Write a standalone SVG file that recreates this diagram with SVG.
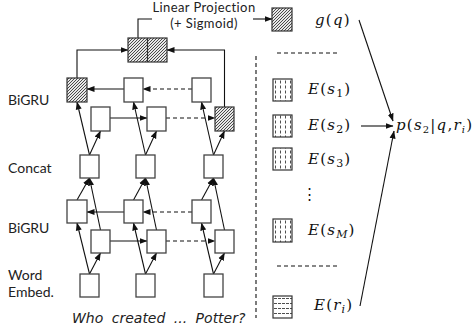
<svg xmlns="http://www.w3.org/2000/svg" width="472" height="334" viewBox="0 0 472 334">
  <defs>
    <!-- diagonal hatching for pooled / final states -->
    <pattern id="hatch" patternUnits="userSpaceOnUse" width="3" height="3">
      <rect width="3" height="3" fill="#e8e8e8"/>
      <path d="M-1,1 L1,-1 M0,3 L3,0 M2,4 L4,2" stroke="#222" stroke-width="0.8"/>
    </pattern>
    <!-- vertical dashes for sentence embeddings -->
    <pattern id="vdash" patternUnits="userSpaceOnUse" x="273" y="0" width="5" height="5">
      <rect width="5" height="5" fill="#fff"/>
      <line x1="2.5" y1="0.5" x2="2.5" y2="3.5" stroke="#222" stroke-width="0.8"/>
    </pattern>
    <!-- horizontal dashes for the relation embedding -->
    <pattern id="hdash" patternUnits="userSpaceOnUse" x="273" y="296" width="8" height="5">
      <rect width="8" height="5" fill="#fff"/>
      <line x1="1" y1="2.5" x2="4" y2="2.5" stroke="#222" stroke-width="0.8"/>
      <line x1="5" y1="2.5" x2="8" y2="2.5" stroke="#222" stroke-width="0.8"/>
    </pattern>
    <marker id="arr" markerUnits="userSpaceOnUse" markerWidth="8" markerHeight="8" viewBox="0 0 8 8" refX="7.5" refY="4" orient="auto">
      <path d="M0,1 L8,4 L0,7 Z" fill="#111"/>
    </marker>
  </defs>
  <style>
    .box { fill: #fff; stroke: #444; stroke-width: 1.3; }
    .hb { fill: url(#hatch); stroke: #333; stroke-width: 1.2; }
    .sb { fill: url(#vdash); stroke: #333; stroke-width: 1.2; }
    .rb { fill: url(#hdash); stroke: #333; stroke-width: 1.2; }
    .ln { fill: none; stroke: #111; stroke-width: 1.1; }
    .ar { fill: none; stroke: #111; stroke-width: 1.1; marker-end: url(#arr); }
    .da { stroke-dasharray: 4 3; }
    .lbl { font-family: Lato, "Liberation Sans", sans-serif; font-size: 14px; fill: #222; }
    .cap { font-size: 13px; letter-spacing: 0.4px; }
    .q { font-family: "DejaVu Sans", sans-serif; font-style: italic; font-size: 14px; fill: #222; }
    .math { font-family: "DejaVu Serif", "Liberation Serif", serif; font-size: 15px; letter-spacing: 1.2px; fill: #111; }
    .mi { font-style: italic; }
    .sub { font-size: 11px; }
  </style>

  <rect width="472" height="334" fill="#fff"/>

  <!-- row labels -->
  <g id="labels">
    <text class="lbl" x="8" y="105">BiGRU</text>
    <text class="lbl" x="8" y="173">Concat</text>
    <text class="lbl" x="8" y="233">BiGRU</text>
    <text class="lbl" x="8" y="280">Word</text>
    <text class="lbl" x="8" y="297">Embed.</text>
    <text class="q" x="72" y="323" word-spacing="4">Who created ... Potter?</text>
    <text class="lbl cap" x="204" y="12" text-anchor="middle">Linear Projection</text>
    <text class="lbl cap" x="204" y="28" text-anchor="middle">(+ Sigmoid)</text>
  </g>

  <g id="connectors">
    <!-- word embedding to lower BiGRU -->
    <line class="ar" x1="89.5" y1="274" x2="77" y2="223"/>
    <line class="ar" x1="89.5" y1="274" x2="100.5" y2="253"/>
    <line class="ar" x1="145.5" y1="274" x2="133.5" y2="223"/>
    <line class="ar" x1="145.5" y1="274" x2="156.5" y2="253"/>
    <line class="ar" x1="213.5" y1="274" x2="201.5" y2="223"/>
    <line class="ar" x1="213.5" y1="274" x2="224.5" y2="253"/>
    <!-- lower BiGRU recurrences -->
    <line class="ar" x1="124" y1="212" x2="87" y2="212"/>
    <line class="ar da" x1="192" y1="212" x2="143" y2="212"/>
    <line class="ar" x1="110" y1="241" x2="147" y2="241"/>
    <line class="ar da" x1="166" y1="241" x2="215" y2="241"/>
    <!-- lower BiGRU to concat -->
    <line class="ar" x1="77" y1="200" x2="89.5" y2="178"/>
    <line class="ar" x1="100.5" y1="230" x2="89.5" y2="178"/>
    <line class="ar" x1="133.5" y1="200" x2="145.5" y2="178"/>
    <line class="ar" x1="156.5" y1="230" x2="145.5" y2="178"/>
    <line class="ar" x1="201.5" y1="200" x2="213.5" y2="178"/>
    <line class="ar" x1="224.5" y1="230" x2="213.5" y2="178"/>
    <!-- concat to upper BiGRU -->
    <line class="ar" x1="89.5" y1="155" x2="77" y2="102"/>
    <line class="ar" x1="89.5" y1="155" x2="100.5" y2="131"/>
    <line class="ar" x1="145.5" y1="155" x2="133.5" y2="102"/>
    <line class="ar" x1="145.5" y1="155" x2="156.5" y2="131"/>
    <line class="ar" x1="213.5" y1="155" x2="201.5" y2="102"/>
    <line class="ar" x1="213.5" y1="155" x2="224.5" y2="131"/>
    <!-- upper BiGRU recurrences -->
    <line class="ar" x1="124" y1="89" x2="87" y2="89"/>
    <line class="ar da" x1="192" y1="89" x2="143" y2="89"/>
    <line class="ar" x1="110" y1="118" x2="147" y2="118"/>
    <line class="ar da" x1="166" y1="118" x2="215" y2="118"/>
    <!-- final states to the joined vector -->
    <polyline class="ar" points="77,78 77,50 128,50"/>
    <polyline class="ar" points="224.5,107 224.5,50 167,50"/>
    <polyline class="ln" points="138,38 138,19 152,19"/>
    <line class="ar" x1="253" y1="19" x2="272" y2="19"/>
    <!-- right panel separators -->
    <line class="ln da" x1="256" y1="56" x2="256" y2="318"/>
    <line class="ln da" x1="277" y1="53" x2="340" y2="53"/>
    <line class="ln da" x1="277" y1="266" x2="340" y2="266"/>
    <!-- inputs of the probability -->
    <line class="ar" x1="359" y1="20" x2="393" y2="121"/>
    <line class="ar" x1="361" y1="126" x2="393" y2="126"/>
    <line class="ar" x1="360" y1="306" x2="394" y2="131"/>
  </g>

  <!-- upper BiGRU -->
  <g id="u_t1"><rect class="hb" x="67" y="78" width="20" height="24"/></g>
  <g id="u_t2"><rect class="box" x="124" y="78" width="19" height="24"/></g>
  <g id="u_t3"><rect class="box" x="192" y="78" width="19" height="24"/></g>
  <g id="u_f1"><rect class="box" x="91" y="107" width="19" height="24"/></g>
  <g id="u_f2"><rect class="box" x="147" y="107" width="19" height="24"/></g>
  <g id="u_f3"><rect class="hb" x="215" y="107" width="19" height="24"/></g>

  <!-- concat -->
  <g id="c1"><rect class="box" x="80" y="155" width="19" height="23"/></g>
  <g id="c2"><rect class="box" x="136" y="155" width="19" height="23"/></g>
  <g id="c3"><rect class="box" x="204" y="155" width="19" height="23"/></g>

  <!-- lower BiGRU -->
  <g id="l_t1"><rect class="box" x="67" y="200" width="20" height="23"/></g>
  <g id="l_t2"><rect class="box" x="124" y="200" width="19" height="23"/></g>
  <g id="l_t3"><rect class="box" x="192" y="200" width="19" height="23"/></g>
  <g id="l_f1"><rect class="box" x="91" y="230" width="19" height="23"/></g>
  <g id="l_f2"><rect class="box" x="147" y="230" width="19" height="23"/></g>
  <g id="l_f3"><rect class="box" x="215" y="230" width="19" height="23"/></g>

  <!-- word embeddings -->
  <g id="e1"><rect class="box" x="80" y="274" width="19" height="23"/></g>
  <g id="e2"><rect class="box" x="136" y="274" width="19" height="23"/></g>
  <g id="e3"><rect class="box" x="204" y="274" width="19" height="23"/></g>

  <!-- joined final states -->
  <g id="joined">
    <rect class="hb" x="128" y="38" width="39" height="24"/>
    <line x1="147.5" y1="38" x2="147.5" y2="62" stroke="#333" stroke-width="1.2"/>
  </g>

  <!-- question vector -->
  <g id="gq">
    <rect class="hb" x="272" y="8" width="20" height="23"/>
    <text class="math" x="315" y="25"><tspan class="mi">g</tspan>(<tspan class="mi">q</tspan>)</text>
  </g>

  <!-- sentence embeddings -->
  <g id="es1">
    <rect class="sb" x="273" y="79" width="19" height="22"/>
    <text class="math" x="308" y="94"><tspan class="mi">E</tspan>(<tspan class="mi">s</tspan><tspan class="sub" dy="3">1</tspan><tspan dy="-3">)</tspan></text>
  </g>
  <g id="es2">
    <rect class="sb" x="273" y="115" width="19" height="22"/>
    <text class="math" x="308" y="130"><tspan class="mi">E</tspan>(<tspan class="mi">s</tspan><tspan class="sub" dy="3">2</tspan><tspan dy="-3">)</tspan></text>
  </g>
  <g id="es3">
    <rect class="sb" x="273" y="148" width="19" height="22"/>
    <text class="math" x="308" y="164"><tspan class="mi">E</tspan>(<tspan class="mi">s</tspan><tspan class="sub" dy="3">3</tspan><tspan dy="-3">)</tspan></text>
  </g>
  <g id="ellipsis">
    <text class="math" x="310" y="199" text-anchor="middle" font-size="14">⋮</text>
  </g>
  <g id="esM">
    <rect class="sb" x="273" y="219" width="19" height="23"/>
    <text class="math" x="308" y="235"><tspan class="mi">E</tspan>(<tspan class="mi">s</tspan><tspan class="mi sub" dy="3">M</tspan><tspan dy="-3">)</tspan></text>
  </g>

  <!-- relation embedding -->
  <g id="eri">
    <rect class="rb" x="273" y="296" width="19" height="22"/>
    <text class="math" x="314" y="310"><tspan class="mi">E</tspan>(<tspan class="mi">r</tspan><tspan class="mi sub" dy="3">i</tspan><tspan dy="-3">)</tspan></text>
  </g>

  <!-- output probability -->
  <g id="prob">
    <text class="math" x="396" y="130" font-size="14" letter-spacing="0"><tspan class="mi">p</tspan>(<tspan class="mi">s</tspan><tspan font-size="10" dy="3">2</tspan><tspan dy="-3">|</tspan><tspan class="mi">q</tspan>,<tspan class="mi">r</tspan><tspan class="mi" font-size="10" dy="3">i</tspan><tspan dy="-3">)</tspan></text>
  </g>
</svg>
